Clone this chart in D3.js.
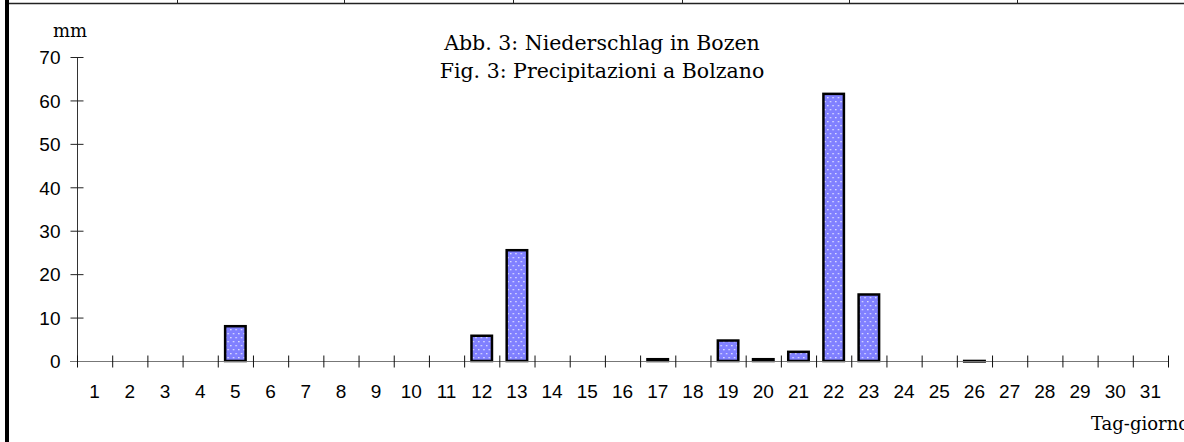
<!DOCTYPE html>
<html>
<head>
<meta charset="utf-8">
<script src="https://cdn.jsdelivr.net/npm/d3@7"></script>
<style>
  body { margin: 0; background: #fff; }
  svg { display: block; }
  .tick text { font-family: "Liberation Sans", Arial, sans-serif; font-size: 19px; fill: #000; }
  .serif { font-family: "DejaVu Serif", "Liberation Serif", serif; fill: #000; }
</style>
</head>
<body>
<div class="chart"></div>
<script>
// daily precipitation, Bozen / Bolzano
var days = [1,2,3,4,5,6,7,8,9,10,11,12,13,14,15,16,17,18,19,20,21,22,23,24,25,26,27,28,29,30,31];
var precip = [0,0,0,0,8.3,0,0,0,0,0,0,6.1,25.8,0,0,0,0.7,0,5.0,0.7,2.4,61.8,15.6,0,0,0.3,0,0,0,0,0];
var yTicks = [0,10,20,30,40,50,60,70];
var titleLines = ["Abb. 3: Niederschlag in Bozen", "Fig. 3: Precipitazioni a Bolzano"];
var yLabel = "mm";
var xLabel = "Tag-giorno";
var sheetCols = [177, 344, 513, 682, 849, 1017];

var W = 1184, H = 442;
var plotLeft = 77, plotRight = 1168, plotTop = 57, plotBase = 361;

var svg = d3.select(".chart").append("svg")
  .attr("width", W)
  .attr("height", H);

// dotted fill for bars
var pat = svg.append("defs").append("pattern")
  .attr("id", "dots")
  .attr("patternUnits", "userSpaceOnUse")
  .attr("width", 5.33)
  .attr("height", 8);
pat.append("rect").attr("width", 5.33).attr("height", 8).attr("fill", "#8080ff");
pat.append("rect").attr("x", 1).attr("y", 1).attr("width", 1.3).attr("height", 1.3).attr("fill", "#eaeaff");
pat.append("rect").attr("x", 3.67).attr("y", 5).attr("width", 1.3).attr("height", 1.3).attr("fill", "#eaeaff");

// sheet frame: thick left edge, top border with cell marks
svg.append("rect").attr("x", 5).attr("y", 0).attr("width", 4).attr("height", H).attr("fill", "#000");
svg.append("line").attr("x1", 9).attr("x2", W).attr("y1", 3.5).attr("y2", 3.5)
  .attr("stroke", "#222").attr("stroke-width", 1.5);
svg.selectAll(".col").data(sheetCols).enter().append("line")
  .attr("class", "col")
  .attr("x1", function(d) { return d + 0.5; })
  .attr("x2", function(d) { return d + 0.5; })
  .attr("y1", 0).attr("y2", 3)
  .attr("stroke", "#222");

var x = d3.scaleBand()
  .domain(days)
  .range([plotLeft, plotRight])
  .paddingInner(0.347)
  .paddingOuter(0.1735);

var xEdge = d3.scaleLinear().domain([0, days.length]).range([plotLeft, plotRight]);

var y = d3.scaleLinear().domain([0, 70]).range([plotBase, plotTop]);

// bars
svg.selectAll(".bar")
  .data(days.filter(function(d, i) { return precip[i] > 0; }))
  .enter().append("rect")
  .attr("class", "bar")
  .attr("x", function(d) { return x(d) + 1.25; })
  .attr("width", x.bandwidth() - 2.5)
  .attr("y", function(d) { return y(precip[d - 1]) + 1.25; })
  .attr("height", function(d) { return Math.max(0.5, plotBase - y(precip[d - 1]) - 1.25); })
  .attr("fill", "url(#dots)")
  .attr("stroke", "#000")
  .attr("stroke-width", 2.5);

// y axis
var yAxis = svg.append("g")
  .attr("transform", "translate(" + (plotLeft + 0.5) + ",0)")
  .call(d3.axisLeft(y).tickValues(yTicks).tickSize(7).tickPadding(10));
yAxis.select(".domain").attr("stroke", "#333").attr("d", "M0," + plotTop + "V" + (plotBase + 6));
yAxis.selectAll(".tick line").attr("x1", -7).attr("x2", 6).attr("stroke", "#222");
yAxis.selectAll(".tick text").attr("dy", "0.36em");

// x axis line + crossing ticks at band edges
var xAxis = svg.append("g")
  .attr("transform", "translate(0," + (plotBase + 0.5) + ")")
  .call(d3.axisBottom(xEdge).tickValues(d3.range(0, days.length + 1)).tickFormat("").tickSizeOuter(0));
xAxis.select(".domain").attr("stroke", "#777").attr("d", "M" + (plotLeft - 7) + ",0H" + plotRight);
xAxis.selectAll(".tick line").attr("y1", -6).attr("y2", 6).attr("stroke", "#111");

// day labels
var xLab = svg.append("g")
  .attr("transform", "translate(0," + plotBase + ")")
  .call(d3.axisBottom(x).tickSize(0).tickPadding(24));
xLab.select(".domain").remove();

// texts
svg.append("text").attr("class", "serif")
  .attr("x", 70).attr("y", 37)
  .attr("text-anchor", "middle")
  .style("font-size", "18px")
  .text(yLabel);

svg.selectAll(".title").data(titleLines).enter().append("text")
  .attr("class", "serif title")
  .attr("x", 602)
  .attr("y", function(d, i) { return 50 + i * 28; })
  .attr("text-anchor", "middle")
  .style("font-size", "20.5px")
  .text(function(d) { return d; });

svg.append("text").attr("class", "serif")
  .attr("x", 1091).attr("y", 430)
  .style("font-size", "18px")
  .text(xLabel);
</script>
</body>
</html>
